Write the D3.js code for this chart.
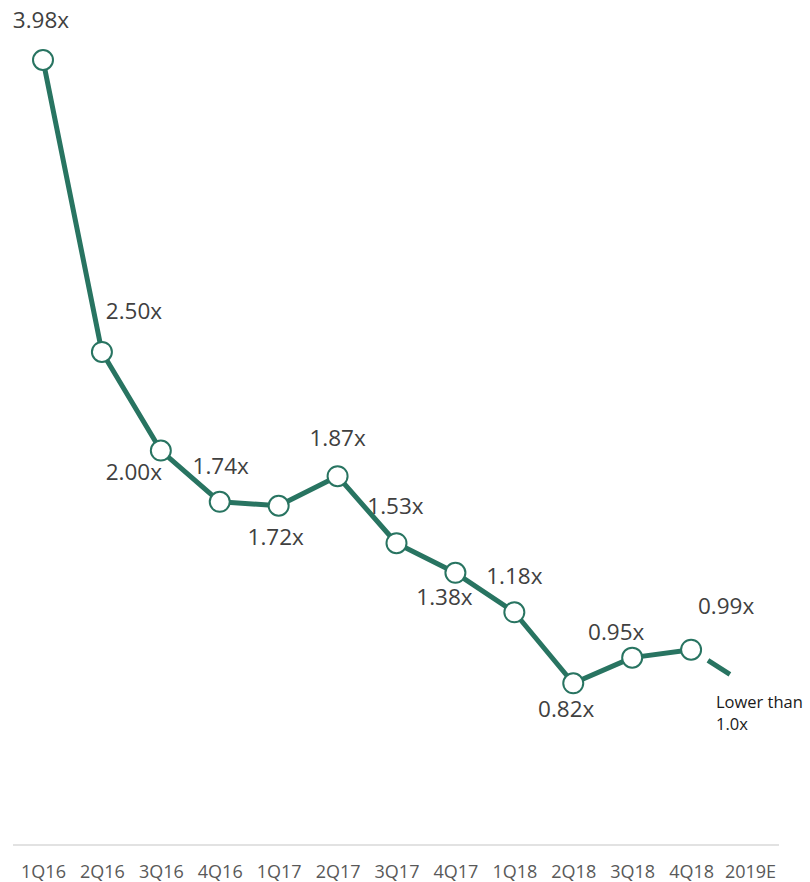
<!DOCTYPE html>
<html><head><meta charset="utf-8">
<script src="https://cdn.jsdelivr.net/npm/d3@7/dist/d3.min.js"></script>
<style>html,body{margin:0;padding:0;background:#fff;}svg{display:block;}</style>
</head><body><div id="chart"></div>
<script>
const categories = ["1Q16","2Q16","3Q16","4Q16","1Q17","2Q17","3Q17","4Q17","1Q18","2Q18","3Q18","4Q18","2019E"];
const values = [3.98, 2.50, 2.00, 1.74, 1.72, 1.87, 1.53, 1.38, 1.18, 0.82, 0.95, 0.99];
const estimateValue = 0.80;
const valueLabels = ["3.98x","2.50x","2.00x","1.74x","1.72x","1.87x","1.53x","1.38x","1.18x","0.82x","0.95x","0.99x"];
const estimateNote = ["Lower than", "1.0x"];
// label placement offsets (layout only)
const labelOffsets = [[-2,-40],[32,-41],[-27,22],[1,-36],[-3,31],[0,-38],[-1,-37],[-11,24],[0,-36],[-7,26],[-16,-26],[35,-44]];

const W = 810, H = 882;
const color = "#287461";
const font = "'Open Sans', sans-serif";
const svg = d3.select("#chart").append("svg").attr("width", W).attr("height", H);

const x = d3.scalePoint().domain(categories).range([43, 750]);
const y = d3.scaleLinear().domain([0, 3.98]).range([845, 60]);

// axis baseline
svg.append("line").attr("x1", 13).attr("x2", 779).attr("y1", y(0)).attr("y2", y(0))
  .attr("stroke", "#d9d9d9").attr("stroke-width", 1.5);

const xAxis = d3.axisBottom(x).tickSize(0).tickPadding(0);
const gx = svg.append("g").attr("transform", `translate(0,${y(0)})`).call(xAxis);
gx.select(".domain").remove();
gx.selectAll("text").attr("y", 27).attr("dy", "0.35em")
  .attr("font-family", font).attr("font-size", 18).attr("fill", "#595959");

const pts = values.map((v,i) => ({c: categories[i], v}));
const line = d3.line().x(d => x(d.c)).y(d => y(d.v));
svg.append("path").datum(pts).attr("d", line).attr("fill", "none")
  .attr("stroke", color).attr("stroke-width", 5).attr("stroke-linejoin", "round");

// dashed estimate segment
const last = pts[pts.length-1];
svg.append("path").datum([last, {c: categories[categories.length-1], v: estimateValue}])
  .attr("d", line).attr("fill", "none").attr("stroke", color).attr("stroke-width", 5)
  .attr("stroke-dasharray", "0,20,26,100");

svg.selectAll("circle.pt").data(pts).join("circle").attr("class","pt")
  .attr("cx", d => x(d.c)).attr("cy", d => y(d.v)).attr("r", 10)
  .attr("fill", "#fff").attr("stroke", color).attr("stroke-width", 2);

svg.selectAll("text.lbl").data(pts).join("text").attr("class","lbl")
  .attr("x", (d,i) => x(d.c) + labelOffsets[i][0])
  .attr("y", (d,i) => y(d.v) + labelOffsets[i][1])
  .attr("text-anchor", "middle").attr("dy", "0.35em")
  .attr("font-family", font).attr("font-size", 22.5).attr("fill", "#404040")
  .text((d,i) => valueLabels[i]);

const note = svg.append("text").attr("y", 708)
  .attr("font-family", font).attr("font-size", 16.5).attr("fill", "#1a1a1a");
estimateNote.forEach((t,i) => note.append("tspan").attr("x", 716).attr("dy", i === 0 ? 0 : 22).text(t));
</script></body></html>
